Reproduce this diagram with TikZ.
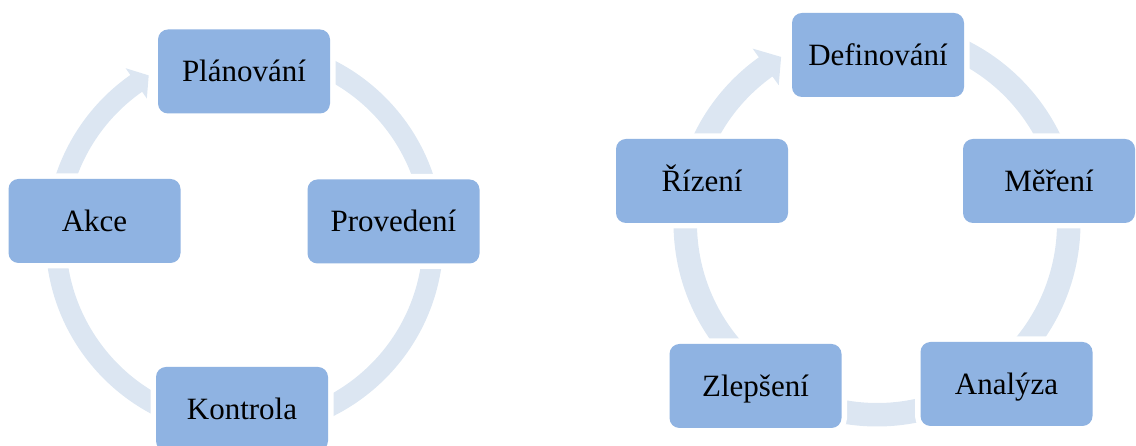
\documentclass[tikz,border=0pt]{standalone}
\usepackage{fontspec}
\setmainfont{Liberation Serif}
\definecolor{boxblue}{RGB}{143,179,226}
\definecolor{ringblue}{RGB}{220,230,242}
\begin{document}
\begin{tikzpicture}[x=1pt,y=1pt,
  stage/.style={rectangle, rounded corners=10pt, fill=boxblue,
    minimum width=172pt, minimum height=84pt, inner sep=0pt,
    text height=28pt, text depth=7.5pt,
    font=\fontsize{31}{37}\selectfont,
    preaction={draw=white, line width=11pt}},
  ringfill/.style={fill=ringblue}]
\useasboundingbox (0,0) rectangle (1136,446);

% cycle centres
\coordinate (c1) at (244.5,208);
\coordinate (c2) at (877,223);

% left cycle: ring with arrow head pointing at the top stage
\begin{scope}[shift={(c1)}]
  \fill[ringfill] (90:199) arc[start angle=90, end angle=-235, radius=199]
    -- (-235:207.25) -- (-239.5:188.75) -- (-235:170.25)
    -- (-235:178.5) arc[start angle=-235, end angle=90, radius=178.5] -- cycle;
\end{scope}

% right cycle
\begin{scope}[shift={(c2)}]
  \fill[ringfill] (90:203.5) arc[start angle=90, end angle=-234.5, radius=203.5]
    -- (-234.5:214.25) -- (-240:191.75) -- (-234.5:169.25)
    -- (-234.5:180) arc[start angle=-234.5, end angle=90, radius=180] -- cycle;
\end{scope}

% stages, left cycle
\node[stage] (plan)  at (244,374.5) {Plánování};
\node[stage] (akce)  at (94.5,225)  {Akce};
\node[stage] (prov)  at (393.5,224.5) {Provedení};
\node[stage] (kontr) at (242,37)    {Kontrola};

% stages, right cycle
\node[stage] (def)    at (878,391)   {Definování};
\node[stage] (rizeni) at (702,265)   {Řízení};
\node[stage] (mereni) at (1049,265)  {Měření};
\node[stage] (zlep)   at (755.5,60)  {Zlepšení};
\node[stage] (anal)   at (1006.5,62) {Analýza};
\end{tikzpicture}
\end{document}
